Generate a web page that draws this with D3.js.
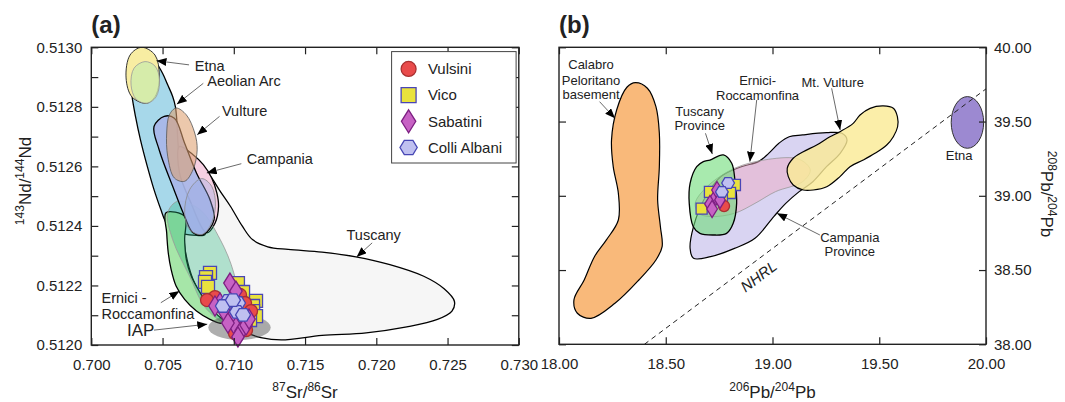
<!DOCTYPE html>
<html>
<head>
<meta charset="utf-8">
<script src="https://cdn.jsdelivr.net/npm/d3@7"></script>
<style>
  body { margin: 0; background: #fff; }
  svg { display: block; font-family: "Liberation Sans", Arial, Helvetica, sans-serif; }
</style>
</head>
<body>
<svg id="chart" width="1065" height="402"></svg>
<script>
// ---------- Panel (a): 87Sr/86Sr vs 143Nd/144Nd ----------
const srTicks = [0.700, 0.705, 0.710, 0.715, 0.720, 0.725, 0.730];
const ndTicks = [0.5120, 0.5121, 0.5122, 0.5123, 0.5124, 0.5125, 0.5126, 0.5127, 0.5128, 0.5129, 0.5130];
const ndLabelled = [0.5120, 0.5122, 0.5124, 0.5126, 0.5128, 0.5130];

// field outlines, [87Sr/86Sr, 143Nd/144Nd]
const tuscanyA = [[0.70702,0.512636],[0.70774,0.512606],[0.70845,0.512561],[0.70905,0.512516],[0.70976,0.512466],[0.71060,0.512399],[0.71131,0.512354],[0.71238,0.512330],[0.71381,0.512321],[0.71619,0.512312],[0.71857,0.512296],[0.72095,0.512270],[0.72333,0.512231],[0.72476,0.512189],[0.72548,0.512147],[0.72531,0.512114],[0.72429,0.512086],[0.72214,0.512061],[0.71929,0.512041],[0.71619,0.512032],[0.71333,0.512017],[0.71190,0.512025],[0.71071,0.512044],[0.70976,0.512064],[0.70881,0.512097],[0.70786,0.512153],[0.70714,0.512220],[0.70662,0.512310],[0.70643,0.512399],[0.70619,0.512488],[0.70619,0.512578]];
const aeolianA = [[0.70405,0.512969],[0.70457,0.512946],[0.70500,0.512913],[0.70536,0.512874],[0.70571,0.512835],[0.70590,0.512801],[0.70600,0.512756],[0.70607,0.512689],[0.70619,0.512622],[0.70643,0.512555],[0.70679,0.512499],[0.70726,0.512455],[0.70786,0.512399],[0.70798,0.512371],[0.70738,0.512368],[0.70643,0.512373],[0.70560,0.512388],[0.70519,0.512416],[0.70488,0.512455],[0.70440,0.512522],[0.70393,0.512600],[0.70345,0.512689],[0.70310,0.512768],[0.70286,0.512835],[0.70274,0.512902],[0.70286,0.512958],[0.70333,0.512980]];
const campaniaA = [[0.70619,0.512667],[0.70714,0.512639],[0.70786,0.512606],[0.70845,0.512561],[0.70881,0.512511],[0.70893,0.512466],[0.70869,0.512410],[0.70810,0.512377],[0.70690,0.512488],[0.70619,0.512578]];
const erniciA = [[0.70524,0.512444],[0.70529,0.512377],[0.70540,0.512310],[0.70560,0.512254],[0.70595,0.512198],[0.70655,0.512153],[0.70738,0.512114],[0.70833,0.512086],[0.70905,0.512073],[0.70940,0.512075],[0.70881,0.512103],[0.70810,0.512142],[0.70750,0.512187],[0.70702,0.512231],[0.70667,0.512287],[0.70655,0.512354],[0.70655,0.512432]];
const greenOvalA = [[0.70607,0.512483],[0.70762,0.512455],[0.70905,0.512354],[0.71000,0.512242],[0.71036,0.512131],[0.70976,0.512069],[0.70810,0.512120],[0.70690,0.512231],[0.70571,0.512354],[0.70536,0.512444]];
const blueOvalA = [[0.70512,0.512768],[0.70583,0.512762],[0.70655,0.512678],[0.70738,0.512578],[0.70833,0.512488],[0.70862,0.512421],[0.70786,0.512371],[0.70714,0.512377],[0.70655,0.512432],[0.70571,0.512533],[0.70476,0.512656],[0.70440,0.512734]];
const paleBlueOvalA = [[0.70774,0.512559],[0.70845,0.512533],[0.70871,0.512466],[0.70833,0.512399],[0.70774,0.512371],[0.70690,0.512388],[0.70655,0.512444],[0.70690,0.512522]];
const vultureA = [[0.70595,0.512796],[0.70667,0.512773],[0.70726,0.512712],[0.70743,0.512656],[0.70714,0.512589],[0.70655,0.512550],[0.70583,0.512561],[0.70536,0.512634],[0.70529,0.512712],[0.70548,0.512773]];
const etnaA = [[0.70354,0.513000],[0.70447,0.512974],[0.70477,0.512907],[0.70454,0.512840],[0.70389,0.512812],[0.70286,0.512833],[0.70244,0.512897],[0.70272,0.512974]];
const etnaInnerA = [[0.70377,0.512952],[0.70447,0.512937],[0.70479,0.512890],[0.70454,0.512833],[0.70391,0.512812],[0.70314,0.512826],[0.70279,0.512873],[0.70300,0.512930]];
const iapA = [0.70821, 0.71259, 0.512017, 0.512101]; // x min, x max, y min, y max

// samples, panel (a)
const vicoA = [[0.70833,0.512242],[0.70805,0.512228],[0.70798,0.512212],[0.70819,0.512195],[0.71029,0.512208],[0.71065,0.512178],[0.71156,0.512148],[0.71135,0.512131],[0.71135,0.512114],[0.71156,0.512097],[0.71114,0.512084],[0.71079,0.512097]];
const vulsiniA = [[0.70868,0.512161],[0.70812,0.512151],[0.71044,0.512168],[0.71079,0.512141],[0.71121,0.512114],[0.71086,0.512050],[0.71008,0.512040]];
const sabatiniA = [[0.70973,0.512208],[0.71015,0.512181],[0.70903,0.512141],[0.70931,0.512114],[0.70987,0.512094],[0.71015,0.512060],[0.71051,0.512047],[0.71086,0.512067],[0.71107,0.512087],[0.70868,0.512131],[0.70959,0.512074],[0.71029,0.512027]];
const colliA = [[0.70959,0.512148],[0.71029,0.512141],[0.71022,0.512111],[0.71065,0.512101],[0.70924,0.512131],[0.70994,0.512151]];

// ---------- Panel (b): 206Pb/204Pb vs 208Pb/204Pb ----------
const pb206Ticks = [18.0, 18.5, 19.0, 19.5, 20.0];
const pb208Ticks = [38.0, 38.5, 39.0, 39.5, 40.0];

const calabroB = [[18.358,39.762],[18.414,39.724],[18.454,39.600],[18.470,39.421],[18.470,39.196],[18.462,38.972],[18.475,38.792],[18.483,38.658],[18.454,38.568],[18.374,38.433],[18.262,38.276],[18.150,38.175],[18.086,38.209],[18.070,38.299],[18.118,38.433],[18.166,38.590],[18.222,38.703],[18.278,38.837],[18.278,39.017],[18.254,39.196],[18.246,39.376],[18.270,39.578],[18.318,39.731]];
const campaniaB = [[18.614,38.646],[18.630,38.579],[18.710,38.590],[18.822,38.646],[18.918,38.714],[19.006,38.860],[19.062,38.949],[19.125,39.028],[19.189,39.095],[19.253,39.196],[19.317,39.286],[19.349,39.376],[19.325,39.421],[19.253,39.425],[19.141,39.410],[19.078,39.398],[19.030,39.354],[18.982,39.286],[18.934,39.230],[18.854,39.196],[18.758,39.129],[18.678,38.972],[18.630,38.792]];
const erniciB = [[18.638,38.950],[18.694,39.062],[18.822,39.185],[18.982,39.246],[19.125,39.246],[19.177,39.174],[19.141,39.095],[19.014,39.028],[18.918,38.949],[18.822,38.882],[18.710,38.860],[18.654,38.882]];
const vultureB = [[19.069,39.185],[19.097,39.253],[19.144,39.297],[19.207,39.342],[19.269,39.398],[19.316,39.432],[19.378,39.488],[19.410,39.544],[19.457,39.589],[19.519,39.605],[19.566,39.589],[19.585,39.533],[19.586,39.465],[19.566,39.398],[19.535,39.342],[19.480,39.286],[19.425,39.241],[19.363,39.196],[19.316,39.129],[19.254,39.061],[19.191,39.039],[19.144,39.039],[19.097,39.073],[19.074,39.129]];
const tuscanyB = [[18.707,39.241],[18.770,39.275],[18.809,39.219],[18.824,39.106],[18.832,38.949],[18.816,38.815],[18.785,38.747],[18.723,38.736],[18.660,38.747],[18.629,38.792],[18.610,38.949],[18.614,39.084],[18.645,39.196],[18.676,39.230]];
const etnaB = [19.837, 19.989, 39.320, 39.668]; // x min, x max, y min, y max
const nhrl = [[18.40, 38.00], [20.00, 39.72]];

const vicoB = [[18.668,38.914],[18.707,39.026],[18.824,39.073],[18.801,39.019],[18.763,38.992]];
const vulsiniB = [[18.773,38.931]];
const sabatiniB = [[18.731,38.985],[18.707,38.945],[18.740,39.039],[18.717,38.911],[18.754,38.972]];
const colliB = [[18.792,39.086],[18.763,39.026]];

const legendNames = ["Vulsini", "Vico", "Sabatini", "Colli Albani"];

// ---------- geometry ----------
const svg = d3.select("#chart");
const FONT = `"Liberation Sans", Arial, Helvetica, sans-serif`;

const xA = d3.scaleLinear().domain([0.700, 0.730]).range([91.3, 518.8]);
const yA = d3.scaleLinear().domain([0.5120, 0.5130]).range([345, 47.3]);
const xB = d3.scaleLinear().domain([18, 20]).range([559, 986]);
const yB = d3.scaleLinear().domain([38, 40]).range([344.3, 47.3]);

const defs = svg.append("defs");
defs.append("marker").attr("id", "ah")
  .attr("viewBox", "0 0 10 8").attr("refX", 10).attr("refY", 4)
  .attr("markerWidth", 10).attr("markerHeight", 8)
  .attr("markerUnits", "userSpaceOnUse").attr("orient", "auto")
  .append("path").attr("d", "M0,0L10,4L0,8Z").attr("fill", "#000");

function clipFor(id, xs, ys) {
  defs.append("clipPath").attr("id", id).append("rect")
    .attr("x", xs.range()[0]).attr("y", ys.range()[1])
    .attr("width", xs.range()[1] - xs.range()[0])
    .attr("height", ys.range()[0] - ys.range()[1]);
}
clipFor("clipA", xA, yA);
clipFor("clipB", xB, yB);

function field(g, pts, xs, ys, fill, stroke, sw) {
  const line = d3.line().x(d => xs(d[0])).y(d => ys(d[1]))
    .curve(d3.curveCatmullRomClosed.alpha(0.5));
  g.append("path").datum(pts).attr("d", line)
    .attr("fill", fill).attr("stroke", stroke).attr("stroke-width", sw)
    .attr("stroke-linejoin", "round");
}
function oval(g, ext, xs, ys, fill, stroke, sw) {
  g.append("ellipse")
    .attr("cx", (xs(ext[0]) + xs(ext[1])) / 2).attr("cy", (ys(ext[2]) + ys(ext[3])) / 2)
    .attr("rx", Math.abs(xs(ext[1]) - xs(ext[0])) / 2).attr("ry", Math.abs(ys(ext[2]) - ys(ext[3])) / 2)
    .attr("fill", fill).attr("stroke", stroke).attr("stroke-width", sw);
}

// marker shapes
const shapes = {
  "Vico": s => `M${-s/2},${-s/2}h${s}v${s}h${-s}Z`,
  "Sabatini": (w, h) => `M0,${-h/2}L${w/2},0L0,${h/2}L${-w/2},0Z`,
  "Colli Albani": (w, h) => `M${w/2},0L${w/4},${h/2}L${-w/4},${h/2}L${-w/2},0L${-w/4},${-h/2}L${w/4},${-h/2}Z`
};
const styles = {
  "Vulsini": { fill: "#e94b4b", stroke: "#a83030" },
  "Vico": { fill: "#e9e23e", stroke: "#4a46b6" },
  "Sabatini": { fill: "#c762c4", stroke: "#7d1f82" },
  "Colli Albani": { fill: "#bfc0f0", stroke: "#4646b4" }
};
function drawMarker(g, name, cx, cy, k) {
  const st = styles[name];
  let el;
  if (name === "Vulsini") {
    el = g.append("circle").attr("cx", cx).attr("cy", cy).attr("r", 6.5 * k);
  } else {
    let d;
    if (name === "Vico") d = shapes.Vico(13 * k);
    else if (name === "Sabatini") d = shapes.Sabatini(12.5 * k, 20 * k);
    else d = shapes["Colli Albani"](15 * k, 12.5 * k);
    el = g.append("path").attr("d", d).attr("transform", `translate(${cx},${cy})`);
  }
  el.attr("fill", st.fill).attr("stroke", st.stroke).attr("stroke-width", 1.3);
}
function series(g, name, pts, xs, ys, k) {
  pts.forEach(p => drawMarker(g, name, xs(p[0]), ys(p[1]), k));
}

function arrow(g, from, to, xs, ys) {
  g.append("line")
    .attr("x1", xs(from[0])).attr("y1", ys(from[1]))
    .attr("x2", xs(to[0])).attr("y2", ys(to[1]))
    .attr("stroke", "#444").attr("stroke-width", 0.8)
    .attr("marker-end", "url(#ah)");
}
function label(g, txt, at, xs, ys, size, anchor) {
  g.append("text").attr("x", xs(at[0])).attr("y", ys(at[1]))
    .attr("font-size", size).attr("fill", "#222")
    .attr("text-anchor", anchor || "start").text(txt);
}

// axes: inward ticks on all four sides
function frameAndAxes(xs, ys, xt, yt, yLab, xFmt, yFmt, yLabelsRight) {
  const g = svg.append("g");
  const tickStyle = sel => {
    sel.select(".domain").remove();
    sel.selectAll(".tick line").attr("stroke", "#222").attr("stroke-width", 1.2);
    sel.selectAll(".tick text").attr("font-size", 15).attr("fill", "#222")
      .attr("font-family", FONT);
  };
  g.append("g").attr("transform", `translate(0,${ys.range()[0]})`)
    .call(d3.axisBottom(xs).tickValues(xt).tickSizeInner(-7).tickSizeOuter(0)
      .tickPadding(14).tickFormat(xFmt)).call(tickStyle);
  g.append("g").attr("transform", `translate(0,${ys.range()[1]})`)
    .call(d3.axisTop(xs).tickValues(xt).tickSizeInner(-7).tickSizeOuter(0)
      .tickFormat("")).call(tickStyle);
  const lab = d => yLab.some(v => Math.abs(v - d) < 1e-9) ? yFmt(d) : "";
  g.append("g").attr("transform", `translate(${xs.range()[0]},0)`)
    .call(d3.axisLeft(ys).tickValues(yt).tickSizeInner(-7).tickSizeOuter(0)
      .tickPadding(9).tickFormat(yLabelsRight ? "" : lab)).call(tickStyle);
  g.append("g").attr("transform", `translate(${xs.range()[1]},0)`)
    .call(d3.axisRight(ys).tickValues(yt).tickSizeInner(-7).tickSizeOuter(0)
      .tickPadding(8).tickFormat(yLabelsRight ? lab : "")).call(tickStyle);
  g.append("rect")
    .attr("x", xs.range()[0]).attr("y", ys.range()[1])
    .attr("width", xs.range()[1] - xs.range()[0])
    .attr("height", ys.range()[0] - ys.range()[1])
    .attr("fill", "none").attr("stroke", "#222").attr("stroke-width", 1.4);
}

// ---------- draw panel (a) ----------
const gA = svg.append("g").attr("clip-path", "url(#clipA)");
field(gA, tuscanyA, xA, yA, "#f6f6f6", "#000", 1.3);
field(gA, aeolianA, xA, yA, "#a7d8ea", "#000", 1.3);
field(gA, campaniaA, xA, yA, "#f6d0e2", "#000", 1.3);
field(gA, erniciA, xA, yA, "#a6e6a8", "#000", 1.3);
field(gA, greenOvalA, xA, yA, "rgba(40,182,125,0.34)", "#999", 0.8);
field(gA, blueOvalA, xA, yA, "rgba(168,182,232,0.92)", "#000", 1.3);
field(gA, paleBlueOvalA, xA, yA, "rgba(150,170,225,0.35)", "#8a8a8a", 0.8);
field(gA, vultureA, xA, yA, "rgba(222,160,112,0.58)", "#555", 0.8);
field(gA, etnaA, xA, yA, "#f8eda2", "#333", 1);
field(gA, etnaInnerA, xA, yA, "rgba(205,235,172,0.8)", "#999", 0.8);
oval(gA, iapA, xA, yA, "rgba(75,75,75,0.45)", "none", 0);

const mA = svg.append("g");
series(mA, "Vico", vicoA, xA, yA, 1);
series(mA, "Vulsini", vulsiniA, xA, yA, 1);
series(mA, "Sabatini", sabatiniA, xA, yA, 1);
series(mA, "Colli Albani", colliA, xA, yA, 1);

frameAndAxes(xA, yA, srTicks, ndTicks, ndLabelled, d3.format(".3f"), d3.format(".4f"), false);

const annA = svg.append("g");
label(annA, "Etna", [0.70726, 0.512922], xA, yA, 14.5);
arrow(annA, [0.70686, 0.512941], [0.70457, 0.512955], xA, yA);
label(annA, "Aeolian Arc", [0.70814, 0.512870], xA, yA, 14.5);
arrow(annA, [0.70786, 0.512879], [0.70600, 0.512809], xA, yA);
label(annA, "Vulture", [0.70917, 0.512769], xA, yA, 14.5);
arrow(annA, [0.70900, 0.512768], [0.70743, 0.512706], xA, yA);
label(annA, "Campania", [0.71091, 0.512607], xA, yA, 14.5);
arrow(annA, [0.71053, 0.512609], [0.70810, 0.512578], xA, yA);
label(annA, "Tuscany", [0.71791, 0.512353], xA, yA, 14.5);
arrow(annA, [0.71971, 0.512343], [0.71862, 0.512296], xA, yA);
label(annA, "Ernici -", [0.70072, 0.512141], xA, yA, 14.5);
label(annA, "Roccamonfina", [0.70072, 0.512086], xA, yA, 14.5);
arrow(annA, [0.70488, 0.512142], [0.70619, 0.512181], xA, yA);
label(annA, "IAP", [0.70250, 0.512029], xA, yA, 17);
arrow(annA, [0.70440, 0.512050], [0.70814, 0.512070], xA, yA);

// legend
const leg = svg.append("g");
leg.append("rect").attr("x", 391.6).attr("y", 51.6).attr("width", 124.5).attr("height", 111.4)
  .attr("fill", "#fff").attr("stroke", "#444").attr("stroke-width", 1);
legendNames.forEach((n, i) => {
  const cy = 68.9 + i * 26.2;
  drawMarker(leg, n, 408.6, cy, 1.15);
  leg.append("text").attr("x", 427.9).attr("y", cy + 5.3).attr("font-size", 15)
    .attr("fill", "#222").text(n);
});

// axis titles (a)
svg.append("text").attr("x", 91.3).attr("y", 33).attr("font-size", 24)
  .attr("font-weight", "bold").attr("fill", "#222").text("(a)");
const xtA = svg.append("text").attr("x", (xA.range()[0] + xA.range()[1]) / 2).attr("y", 397.5)
  .attr("text-anchor", "middle").attr("font-size", 17).attr("fill", "#222");
xtA.append("tspan").attr("font-size", 12).attr("dy", -7).text("87");
xtA.append("tspan").attr("dy", 7).text("Sr/");
xtA.append("tspan").attr("font-size", 12).attr("dy", -7).text("86");
xtA.append("tspan").attr("dy", 7).text("Sr");
const ytA = svg.append("text").attr("transform", "translate(31,181) rotate(-90)")
  .attr("text-anchor", "middle").attr("font-size", 17).attr("fill", "#222");
ytA.append("tspan").attr("font-size", 12).attr("dy", -7).text("143");
ytA.append("tspan").attr("dy", 7).text("Nd/");
ytA.append("tspan").attr("font-size", 12).attr("dy", -7).text("144");
ytA.append("tspan").attr("dy", 7).text("Nd");

// ---------- draw panel (b) ----------
const gB = svg.append("g").attr("clip-path", "url(#clipB)");
field(gB, calabroB, xB, yB, "#f9b97a", "#000", 1.2);
field(gB, campaniaB, xB, yB, "#d9d4f2", "#000", 1.2);
field(gB, erniciB, xB, yB, "rgba(238,172,196,0.5)", "#999", 0.8);
field(gB, vultureB, xB, yB, "rgba(250,234,150,0.82)", "#000", 1.2);
field(gB, tuscanyB, xB, yB, "rgba(110,220,120,0.6)", "#000", 1.3);
oval(gB, etnaB, xB, yB, "#9c89d1", "#333", 1);
gB.append("line")
  .attr("x1", xB(nhrl[0][0])).attr("y1", yB(nhrl[0][1]))
  .attr("x2", xB(nhrl[1][0])).attr("y2", yB(nhrl[1][1]))
  .attr("stroke", "#222").attr("stroke-width", 1).attr("stroke-dasharray", "5,4");

const mB = svg.append("g");
series(mB, "Vico", vicoB, xB, yB, 0.85);
series(mB, "Vulsini", vulsiniB, xB, yB, 0.85);
series(mB, "Sabatini", sabatiniB, xB, yB, 0.85);
series(mB, "Colli Albani", colliB, xB, yB, 0.85);

frameAndAxes(xB, yB, pb206Ticks, pb208Ticks, pb208Ticks, d3.format(".2f"), d3.format(".2f"), true);

const annB = svg.append("g");
label(annB, "Calabro", [18.150, 39.851], xB, yB, 13, "middle");
label(annB, "Peloritano", [18.150, 39.749], xB, yB, 13, "middle");
label(annB, "basement", [18.150, 39.652], xB, yB, 13, "middle");
arrow(annB, [18.190, 39.634], [18.262, 39.522], xB, yB);
label(annB, "Tuscany", [18.659, 39.537], xB, yB, 13, "middle");
label(annB, "Province", [18.659, 39.440], xB, yB, 13, "middle");
arrow(annB, [18.686, 39.421], [18.718, 39.281], xB, yB);
label(annB, "Ernici-", [18.930, 39.743], xB, yB, 13, "middle");
label(annB, "Roccamonfina", [18.930, 39.642], xB, yB, 13, "middle");
arrow(annB, [18.926, 39.645], [18.894, 39.230], xB, yB);
label(annB, "Mt. Vulture", [19.282, 39.733], xB, yB, 13, "middle");
arrow(annB, [19.277, 39.724], [19.317, 39.443], xB, yB);
label(annB, "Etna", [19.874, 39.238], xB, yB, 13, "middle");
label(annB, "Campania", [19.362, 38.690], xB, yB, 13, "middle");
label(annB, "Province", [19.362, 38.595], xB, yB, 13, "middle");
arrow(annB, [19.222, 38.736], [19.021, 38.882], xB, yB);
const nhAng = Math.atan2(yB(nhrl[1][1]) - yB(nhrl[0][1]), xB(nhrl[1][0]) - xB(nhrl[0][0])) * 180 / Math.PI;
annB.append("text")
  .attr("transform", `translate(${xB(18.95)},${yB(38.43)}) rotate(${nhAng})`)
  .attr("text-anchor", "middle").attr("font-size", 15).attr("font-style", "italic")
  .attr("fill", "#222").text("NHRL");

svg.append("text").attr("x", 559).attr("y", 33).attr("font-size", 24)
  .attr("font-weight", "bold").attr("fill", "#222").text("(b)");
const xtB = svg.append("text").attr("x", (xB.range()[0] + xB.range()[1]) / 2).attr("y", 398)
  .attr("text-anchor", "middle").attr("font-size", 17).attr("fill", "#222");
xtB.append("tspan").attr("font-size", 12).attr("dy", -7).text("206");
xtB.append("tspan").attr("dy", 7).text("Pb/");
xtB.append("tspan").attr("font-size", 12).attr("dy", -7).text("204");
xtB.append("tspan").attr("dy", 7).text("Pb");
const ytB = svg.append("text").attr("transform", "translate(1041,194) rotate(90)")
  .attr("text-anchor", "middle").attr("font-size", 17).attr("fill", "#222");
ytB.append("tspan").attr("font-size", 12).attr("dy", -7).text("208");
ytB.append("tspan").attr("dy", 7).text("Pb/");
ytB.append("tspan").attr("font-size", 12).attr("dy", -7).text("204");
ytB.append("tspan").attr("dy", 7).text("Pb");
</script>
</body>
</html>
